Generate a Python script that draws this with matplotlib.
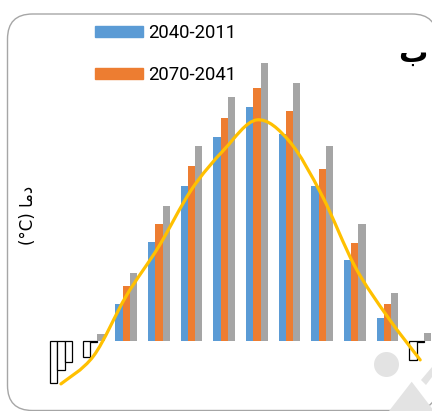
import matplotlib
matplotlib.use("Agg")
import matplotlib.pyplot as plt
import matplotlib.patches as mpatches
from matplotlib.path import Path
from matplotlib.transforms import IdentityTransform
import numpy as np

# monthly temperature (deg C)
months = list(range(12))
period_1 = [-5.3, -2.0, 4.6, 12.3, 19.3, 25.4, 29.2, 25.8, 19.3, 10.1, 2.9, -2.4]
period_2 = [-3.6, -0.1, 6.9, 14.6, 21.8, 27.8, 31.6, 28.7, 21.4, 12.2, 4.6, -0.1]
period_3 = [-2.6, 0.9, 8.5, 16.8, 24.3, 30.5, 34.7, 32.2, 24.3, 14.6, 6.0, 1.0]
observed = [-5.4, -1.9, 5.6, 11.8, 18.9, 23.9, 27.6, 24.9, 18.1, 9.3, 3.0, -2.4]
legend_labels = ["2040-2011", "2070-2041"]

blue = "#5B9BD5"
orange = "#ED7D31"
gray = "#A5A5A5"
yellow = "#FFC000"

plt.rcParams['font.family'] = ['DejaVu Sans']

W, H = 432, 411
fig = plt.figure(figsize=(W / 100, H / 100), dpi=100)


# excel style smoothed line (bezier through the points)
def smooth_path(xs, ys):
    pts = np.column_stack([xs, ys]).astype(float)
    n = len(pts)
    verts = [pts[0]]
    codes = [Path.MOVETO]
    for i in range(n - 1):
        p0 = pts[i - 1] if i > 0 else pts[i]
        p3 = pts[i + 2] if i + 2 < n else pts[i + 1]
        c1 = pts[i] + (pts[i + 1] - p0) / 6
        c2 = pts[i + 1] - (p3 - pts[i]) / 6
        verts += [c1, c2, pts[i + 1]]
        codes += [Path.CURVE4] * 3
    return Path(verts, codes)


# chart frame and the watermark, in pixels
frame = mpatches.FancyBboxPatch((7.5, H - 410.5), 437 - 7.5, 410.5 - 14,
                                boxstyle="round,pad=0,rounding_size=25",
                                transform=IdentityTransform(), facecolor="white",
                                edgecolor="#a6a6a6", linewidth=1.0, zorder=0)
fig.add_artist(frame)
wm = "#e3e3e3"
fig.add_artist(mpatches.Circle((386.5, H - 364.5), 12.5, transform=IdentityTransform(),
                               facecolor=wm, edgecolor="none", zorder=0.5))
fig.add_artist(mpatches.Polygon([(411.7, H - 381.7), (389, H - 411), (434, H - 411)],
                                transform=IdentityTransform(), facecolor=wm,
                                edgecolor="none", zorder=0.5))
fig.add_artist(mpatches.Polygon([(421, H - 380), (432, H - 367), (432, H - 377), (426, H - 385)],
                                transform=IdentityTransform(), facecolor=wm,
                                edgecolor="none", zorder=0.5))

ax = fig.add_axes([44.6 / W, (H - 405) / H, 391.9 / W, (405 - 20) / H])
ax.patch.set_visible(False)
ax.set_zorder(1)

x = np.arange(len(months))
bw = 0.223
for off, vals, col in [(-bw, period_1, blue), (0, period_2, orange), (bw, period_3, gray)]:
    face = [col if v >= 0 else "white" for v in vals]
    edge = ["none" if v >= 0 else "black" for v in vals]
    ax.bar(x + off, vals, width=bw, color=face, edgecolor=edge, linewidth=0.9, zorder=2)

curve = mpatches.PathPatch(smooth_path(x, observed), fill=False, edgecolor=yellow,
                           linewidth=2.3, capstyle="round", joinstyle="round", zorder=3)
ax.add_patch(curve)

ax.set_xlim(-0.5, 11.5)
ax.set_ylim(-(405 - 340.7) / 8, (340.7 - 20) / 8)
ax.axis("off")

handles = [mpatches.Patch(color=blue), mpatches.Patch(color=orange)]
fig.legend(handles, legend_labels, loc="upper left", bbox_to_anchor=(95 / W, 1 - 24 / H),
           bbox_transform=fig.transFigure, frameon=False,
           prop={"family": "Roboto", "size": 13.3}, handlelength=2.6, handleheight=0.6,
           handletextpad=0.27, labelspacing=1.3, borderpad=0, borderaxespad=0)

fig.text(413 / W, 1 - 54 / H, "ب", ha="center", va="center", fontsize=21, fontweight="bold")
fig.text(28 / W, 1 - 215 / H, "(°C) \ufe8e\ufee3\ufea9", rotation=90, ha="center", va="center",
         fontsize=12)

fig.savefig("out.png", dpi=100)
